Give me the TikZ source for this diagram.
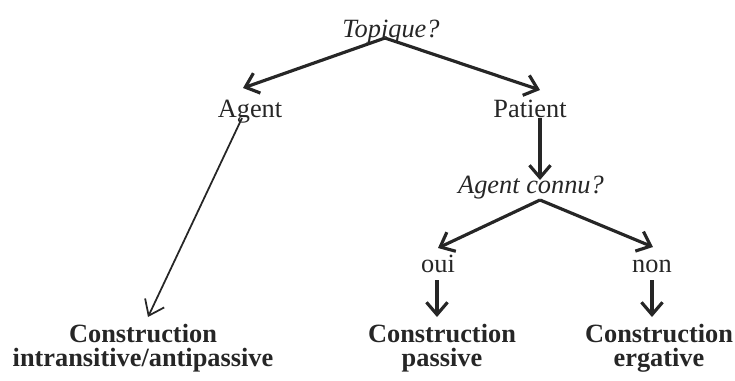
\documentclass[tikz,border=0pt]{standalone}
\usepackage{fontspec}
\setmainfont{Liberation Serif}
\usepackage{tikz}
\usetikzlibrary{arrows.meta}
\definecolor{inkgray}{gray}{0.15}
\tikzset{
	question/.style={font=\fontsize{15}{14}\selectfont\itshape, text=inkgray, inner sep=0pt, anchor=base},
	answer/.style={font=\fontsize{15}{14}\selectfont, text=inkgray, inner sep=0pt, anchor=base},
	result/.style={font=\fontsize{15}{13.5}\selectfont\bfseries, text=inkgray, align=center, inner sep=0pt, anchor=base},
	thickarrow/.style={draw=inkgray, line width=1.8pt, -{Straight Barb[length=7pt,width=12pt]}},
	thinarrow/.style={draw=inkgray, line width=1pt, -{Straight Barb[length=8pt,width=12pt]}}
}

\begin{document}
\begin{tikzpicture}[x=0.02cm, y=-0.02cm]
			\useasboundingbox (0,0) rectangle (735,380);
			
			\node[question] (topique) at (391,37) {Topique?};
			\node[answer] (agent) at (250,117) {Agent};
			\node[answer] (patient) at (530,117) {Patient};
			\node[question] (connu) at (531,193) {Agent connu?};
			\node[answer] (oui) at (438,272) {oui};
			\node[answer] (non) at (652,272) {non};
			
			% base of a two-line node is the lower line
			\node[result] (intrans) at (143,366) {Construction\\intransitive/antipassive};
			\node[result] (passive) at (442,366) {Construction\\passive};
			\node[result] (ergative) at (659,366) {Construction\\ergative};
			
			
			\draw[thickarrow] ([shift={(-6,1)}]topique.base) -- ([shift={(-7,-29)}]agent.base);
			\draw[thickarrow] ([shift={(-6,1)}]topique.base) -- ([shift={(10,-27)}]patient.base);
			\draw[thinarrow] ([shift={(-8,1)}]agent.base) -- ([shift={(5,-49)}]intrans.base);
			\draw[thickarrow] ([shift={(10,1)}]patient.base) -- ([shift={(9,-13)}]connu.base);
			\draw[thickarrow] ([shift={(9,7)}]connu.base) -- ([shift={(0,-24)}]oui.base);
			\draw[thickarrow] ([shift={(9,7)}]connu.base) -- ([shift={(1,-25)}]non.base);
			\draw[thickarrow] ([shift={(-1,8)}]oui.base) -- ([shift={(-5,-49)}]passive.base);
			\draw[thickarrow] ([shift={(0,8)}]non.base) -- ([shift={(-7,-49)}]ergative.base);
		\end{tikzpicture}
\end{document}
